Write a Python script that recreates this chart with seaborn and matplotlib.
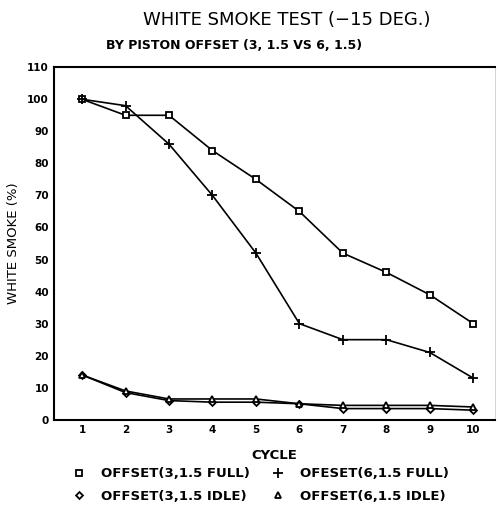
import numpy as np
import pandas as pd
import seaborn as sns
import matplotlib.pyplot as plt

# values
cycles = [1, 2, 3, 4, 5, 6, 7, 8, 9, 10]
off3_full = [100, 95, 95, 84, 75, 65, 52, 46, 39, 30]
off6_full = [100, 98, 86, 70, 52, 30, 25, 25, 21, 13]
off3_idle = [14, 8.5, 6, 5.5, 5.5, 5, 3.5, 3.5, 3.5, 3]
off6_idle = [14, 9, 6.5, 6.5, 6.5, 5, 4.5, 4.5, 4.5, 4]

labels = ["OFFSET(3,1.5 FULL)", "OFESET(6,1.5 FULL)",
          "OFFSET(3,1.5 IDLE)", "OFFSET(6,1.5 IDLE)"]
series = [off3_full, off6_full, off3_idle, off6_idle]

df = pd.concat([pd.DataFrame({"cycle": cycles, "smoke": s, "run": lab})
                for s, lab in zip(series, labels)], ignore_index=True)

sns.set_style("white")
plt.rcParams['font.family'] = ['DejaVu Sans']
plt.rcParams['text.color'] = 'black'
plt.rcParams['axes.labelcolor'] = 'black'
plt.rcParams['xtick.color'] = 'black'
plt.rcParams['ytick.color'] = 'black'

fig = plt.figure(figsize=(4.98, 5.17), dpi=100)
ax = fig.add_axes([0.108, 0.188, 0.886, 0.682])

markers = {labels[0]: "s", labels[1]: "+", labels[2]: "D", labels[3]: "^"}
sizes = {labels[0]: 5, labels[1]: 7, labels[2]: 3.5, labels[3]: 4.5}
for lab in labels:
    sub = df[df.run == lab]
    sns.lineplot(data=sub, x="cycle", y="smoke", ax=ax, color="black",
                 lw=1.2, marker=markers[lab], markersize=sizes[lab],
                 markerfacecolor="white" if markers[lab] != "+" else "black",
                 markeredgecolor="black", markeredgewidth=1.3, label=lab,
                 legend=False)

ax.set_xlim(0.35, 10.5)
ax.set_ylim(0, 110)
ax.set_xticks(cycles)
ax.set_yticks(np.arange(0, 111, 10))
ax.tick_params(direction="in", length=6, width=1.2, labelsize=7.5)
for t in ax.get_xticklabels() + ax.get_yticklabels():
    t.set_fontweight("bold")
for side in ["left", "bottom", "top"]:
    ax.spines[side].set_linewidth(1.5)
    ax.spines[side].set_color("black")
ax.spines["right"].set_color("#cccccc")
ax.spines["right"].set_linewidth(0.6)

ax.set_xlabel("CYCLE", fontsize=9.5, fontweight="bold", labelpad=10)
ax.set_ylabel("WHITE SMOKE (%)", fontsize=9.5, labelpad=5)

fig.text(0.575, 0.962, "WHITE SMOKE TEST (\u221215 DEG.)", ha="center",
         va="center", fontsize=13)
fig.text(0.47, 0.912, "BY PISTON OFFSET (3, 1.5 VS 6, 1.5)", ha="center",
         va="center", fontsize=9, fontweight="bold")

handles, labs = ax.get_legend_handles_labels()
order = [0, 2, 1, 3]
fig.legend([handles[i] for i in order], [labs[i] for i in order],
           loc="center", bbox_to_anchor=(0.53, 0.062), ncol=2, frameon=False,
           handlelength=0, handletextpad=1.6, columnspacing=2.2,
           labelspacing=0.7, prop={"size": 9.5, "weight": "bold"})

fig.savefig("out.png", dpi=100)
